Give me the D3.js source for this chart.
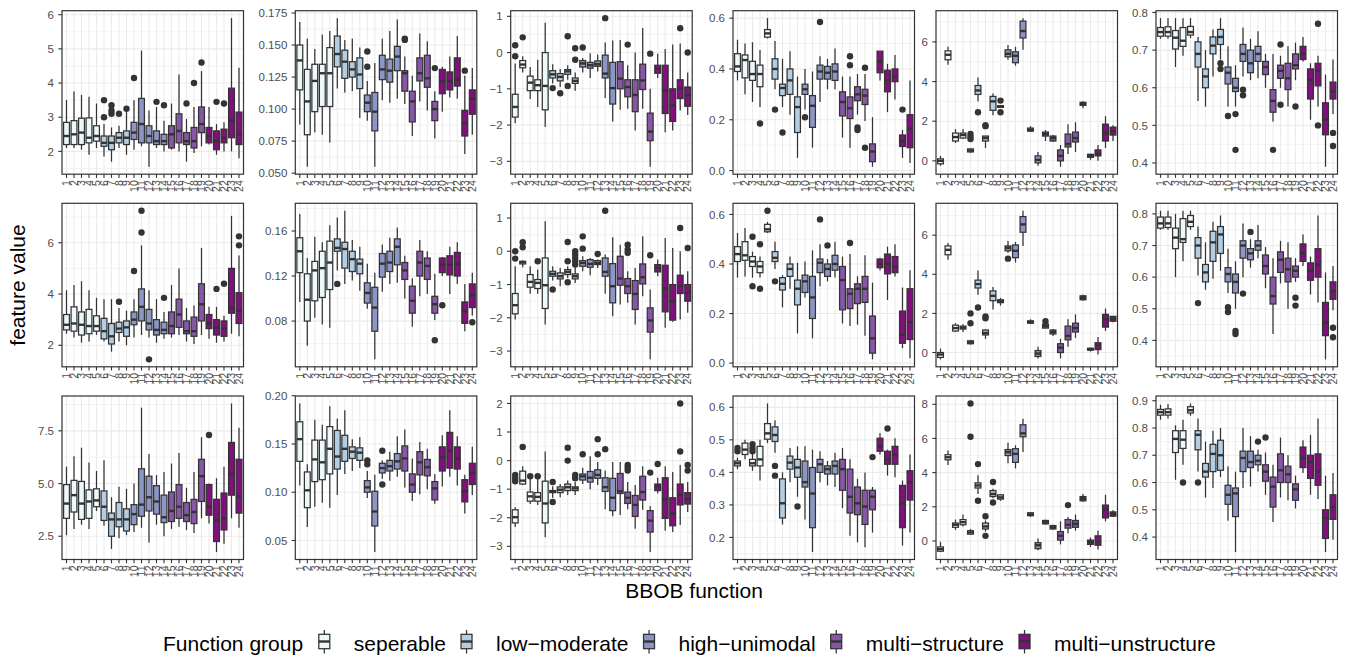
<!DOCTYPE html>
<html>
<head>
<meta charset="utf-8">
<script src="https://cdn.jsdelivr.net/npm/d3@7"></script>
<style>
  body { margin: 0; background: #fff; }
  svg { display: block; font-family: "Liberation Sans", Arial, sans-serif; }
</style>
</head>
<body>
<svg id="chart" width="1348" height="658"></svg>
<script>
// BBOB functions 1..24 and their group
var fnLabels = ["1","2","3","4","5","6","7","8","9","10","11","12","13","14","15","16","17","18","19","20","21","22","23","24"];
var groupNames = ["seperable", "low\u2212moderate", "high\u2212unimodal", "multi\u2212structure", "multi\u2212unstructure"];
var groupColors = ["#edf8fb", "#b3cde3", "#8c96c6", "#8856a7", "#810f7c"];
var fnGroup = [0,0,0,0,0,1,1,1,1,2,2,2,2,2,3,3,3,3,3,4,4,4,4,4];

// each row: [lower whisker, q1, median, q3, upper whisker]; outliers: [function, value]
var r1c1 = [[2.1,2.2,2.45,2.85,3.5],[2.1,2.2,2.5,2.9,3.75],[2.05,2.2,2.55,2.97,3.65],[1.9,2.25,2.4,2.98,3.6],[2.1,2.3,2.45,2.75,3.4],[1.85,2.15,2.25,2.45,2.8],[1.7,2.05,2.25,2.45,2.7],[2.1,2.25,2.4,2.55,2.75],[1.9,2.2,2.4,2.6,3.15],[2.05,2.35,2.55,2.85,3.5],[2.15,2.25,2.8,3.55,4.95],[1.55,2.25,2.45,2.75,3.2],[2.1,2.2,2.3,2.6,3.3],[2.0,2.2,2.3,2.5,2.9],[2.05,2.1,2.5,2.75,3.4],[2.0,2.25,2.6,3.1,4.25],[1.7,2.2,2.3,2.55,2.95],[1.95,2.1,2.3,2.7,3.3],[2.15,2.55,2.8,3.3,4.35],[2.2,2.25,2.45,2.7,3.3],[1.9,2.05,2.3,2.6,2.8],[2.0,2.25,2.4,2.65,2.85],[2.0,2.4,2.9,3.85,5.9],[1.8,2.2,2.5,3.15,4.45]];
var r1c1Out = [[6,3.5],[6,3.0],[7,3.35],[7,3.2],[7,3.1],[8,3.1],[9,3.25],[10,4.15],[13,3.45],[14,3.35],[17,3.4],[18,4.0],[19,4.6],[21,3.45],[22,3.4]];

var r1c2 = [[0.088,0.115,0.138,0.150,0.168],[0.055,0.080,0.106,0.131,0.155],[0.082,0.098,0.122,0.135,0.147],[0.080,0.102,0.128,0.135,0.158],[0.074,0.102,0.128,0.148,0.161],[0.116,0.133,0.143,0.157,0.171],[0.113,0.124,0.137,0.146,0.154],[0.114,0.125,0.131,0.137,0.155],[0.093,0.116,0.127,0.140,0.148],[0.091,0.098,0.105,0.111,0.122],[0.055,0.083,0.098,0.113,0.136],[0.107,0.123,0.131,0.142,0.155],[0.105,0.121,0.130,0.139,0.161],[0.108,0.130,0.141,0.149,0.170],[0.104,0.114,0.128,0.130,0.141],[0.079,0.090,0.106,0.114,0.126],[0.106,0.122,0.128,0.140,0.159],[0.099,0.117,0.124,0.142,0.153],[0.077,0.091,0.100,0.106,0.114],[0.098,0.112,0.122,0.131,0.133],[0.109,0.115,0.122,0.129,0.141],[0.108,0.118,0.123,0.140,0.157],[0.065,0.079,0.089,0.099,0.126],[0.080,0.096,0.108,0.115,0.132]];
var r1c2Out = [[10,0.145],[10,0.133],[15,0.155],[15,0.154],[19,0.132],[23,0.130]];

var r1c3 = [[-1.95,-1.78,-1.5,-1.15,-0.3],[-0.55,-0.42,-0.33,-0.22,-0.1],[-1.28,-1.05,-0.83,-0.65,-0.4],[-1.5,-1.05,-0.9,-0.75,-0.2],[-2.05,-1.58,-0.92,0.0,0.82],[-0.85,-0.7,-0.6,-0.5,-0.32],[-0.95,-0.78,-0.67,-0.58,-0.45],[-0.75,-0.6,-0.52,-0.47,-0.35],[-1.05,-0.85,-0.78,-0.7,-0.55],[-0.55,-0.4,-0.3,-0.22,-0.15],[-0.7,-0.43,-0.35,-0.27,-0.02],[-0.52,-0.38,-0.32,-0.23,-0.05],[-1.25,-0.7,-0.58,-0.07,0.28],[-1.9,-1.42,-0.98,-0.27,0.33],[-1.58,-1.0,-0.72,-0.25,0.35],[-1.55,-1.22,-0.95,-0.75,-0.35],[-2.15,-1.63,-1.17,-0.75,0.0],[-1.55,-1.02,-0.77,-0.32,0.68],[-3.15,-2.43,-2.18,-1.67,-1.0],[-0.7,-0.57,-0.45,-0.35,-0.03],[-2.2,-1.68,-1.05,-0.35,0.1],[-2.15,-1.9,-1.45,-1.0,0.22],[-1.6,-1.27,-0.98,-0.75,0.25],[-1.72,-1.48,-1.18,-0.95,-0.55]];
var r1c3Out = [[1,0.2],[1,-0.1],[2,0.42],[6,-0.98],[7,-1.12],[8,0.45],[8,-0.92],[9,0.12],[9,-0.2],[10,0.14],[13,0.95],[16,0.22],[19,-0.03],[23,0.67],[24,0.0]];

var r1c4 = [[0.355,0.39,0.41,0.46,0.515],[0.3,0.365,0.435,0.455,0.5],[0.27,0.355,0.38,0.43,0.505],[0.25,0.33,0.38,0.415,0.475],[0.52,0.525,0.54,0.555,0.6],[0.32,0.36,0.40,0.44,0.51],[0.25,0.295,0.325,0.34,0.44],[0.22,0.3,0.355,0.4,0.47],[0.05,0.15,0.25,0.29,0.37],[0.24,0.3,0.32,0.34,0.4],[0.09,0.17,0.255,0.295,0.39],[0.27,0.36,0.39,0.415,0.45],[0.32,0.36,0.385,0.41,0.44],[0.32,0.355,0.39,0.42,0.48],[0.13,0.215,0.27,0.31,0.37],[0.09,0.205,0.245,0.29,0.37],[0.22,0.275,0.30,0.33,0.38],[0.195,0.26,0.295,0.32,0.38],[0.015,0.035,0.075,0.105,0.21],[0.355,0.385,0.43,0.47,0.47],[0.23,0.31,0.355,0.395,0.42],[0.28,0.35,0.37,0.4,0.455],[0.05,0.095,0.115,0.14,0.16],[0.03,0.09,0.165,0.22,0.355]];
var r1c4Out = [[4,0.185],[6,0.24],[7,0.15],[10,0.21],[12,0.585],[16,0.45],[16,0.415],[17,0.17],[17,0.16],[18,0.405],[18,0.09],[23,0.24]];

var r1c5 = [[-0.25,-0.15,0.0,0.1,0.25],[4.85,5.1,5.35,5.55,5.75],[0.9,1.0,1.2,1.4,1.6],[1.1,1.15,1.3,1.4,1.6],[0.4,0.45,0.52,0.6,0.65],[3.0,3.35,3.55,3.8,4.2],[0.65,1.0,1.15,1.25,1.25],[2.3,2.55,3.0,3.25,3.4],[2.7,2.7,2.73,2.78,2.8],[5.1,5.25,5.4,5.6,5.85],[4.8,4.95,5.3,5.5,5.75],[5.6,6.2,6.55,7.05,7.2],[1.45,1.5,1.55,1.65,1.75],[-0.25,-0.1,0.05,0.25,0.45],[1.0,1.25,1.35,1.45,1.55],[0.95,1.0,1.15,1.25,1.3],[-0.3,0.0,0.25,0.55,0.8],[0.35,0.7,0.85,1.35,1.85],[0.45,0.95,1.15,1.45,1.95],[2.65,2.8,2.88,2.95,3.0],[0.05,0.18,0.25,0.33,0.35],[0.0,0.25,0.35,0.55,0.8],[0.65,1.0,1.4,1.85,2.25],[1.0,1.3,1.5,1.7,1.8]];
var r1c5Out = [[5,1.35],[5,1.2],[5,1.1],[6,2.45],[7,1.8],[7,1.75],[9,3.04],[9,2.45]];

var r1c6 = [[0.73,0.737,0.748,0.76,0.785],[0.73,0.737,0.748,0.762,0.785],[0.655,0.703,0.733,0.752,0.785],[0.685,0.71,0.725,0.76,0.785],[0.732,0.74,0.748,0.763,0.785],[0.565,0.655,0.69,0.722,0.735],[0.55,0.6,0.63,0.65,0.7],[0.63,0.69,0.712,0.735,0.755],[0.675,0.715,0.735,0.755,0.785],[0.55,0.61,0.64,0.655,0.71],[0.55,0.59,0.60,0.625,0.66],[0.63,0.67,0.69,0.715,0.76],[0.62,0.64,0.665,0.7,0.73],[0.625,0.67,0.69,0.71,0.75],[0.6,0.635,0.655,0.67,0.69],[0.51,0.535,0.565,0.595,0.69],[0.6,0.625,0.645,0.66,0.685],[0.55,0.595,0.625,0.665,0.71],[0.62,0.65,0.66,0.69,0.72],[0.67,0.675,0.69,0.71,0.735],[0.515,0.57,0.62,0.65,0.665],[0.55,0.605,0.645,0.665,0.685],[0.39,0.475,0.515,0.56,0.635],[0.53,0.57,0.59,0.615,0.675]];
var r1c6Out = [[9,0.665],[9,0.65],[10,0.525],[11,0.53],[11,0.435],[12,0.595],[12,0.58],[16,0.435],[17,0.715],[17,0.555],[19,0.55],[22,0.77],[22,0.5],[24,0.48],[24,0.445]];

var r2c1 = [[2.45,2.6,2.8,3.2,4.15],[2.3,2.55,2.85,3.5,4.35],[2.1,2.4,2.8,3.3,4.5],[2.15,2.45,2.75,3.4,4.15],[2.4,2.55,2.75,3.15,3.85],[2.15,2.25,2.55,3.05,3.8],[1.75,2.05,2.35,2.85,3.8],[2.15,2.5,2.65,2.9,3.45],[2.0,2.35,2.7,2.95,3.35],[2.3,2.8,3.0,3.3,3.8],[2.4,2.95,3.5,4.2,5.9],[2.3,2.6,2.85,3.4,4.15],[2.1,2.4,2.6,3.0,3.8],[2.25,2.45,2.6,2.9,3.3],[2.3,2.45,2.75,3.3,4.35],[2.4,2.7,3.2,3.8,5.0],[2.15,2.45,2.55,2.95,3.45],[2.05,2.35,2.55,3.1,3.55],[2.4,2.95,3.6,4.4,5.8],[2.25,2.65,2.85,3.2,3.5],[2.1,2.4,2.7,3.0,3.5],[2.15,2.35,2.65,2.95,3.15],[2.45,3.25,3.45,5.0,7.05],[2.35,2.85,3.35,4.05,5.5]];
var r2c1Out = [[8,3.7],[10,4.9],[11,7.25],[11,6.4],[12,1.45],[14,3.85],[21,4.2],[22,4.4],[24,6.25],[24,5.9]];

var r2c2 = [[0.097,0.123,0.142,0.154,0.175],[0.058,0.080,0.099,0.122,0.136],[0.083,0.098,0.125,0.133,0.155],[0.077,0.101,0.127,0.142,0.150],[0.074,0.108,0.132,0.151,0.165],[0.125,0.142,0.145,0.153,0.172],[0.113,0.127,0.144,0.150,0.178],[0.116,0.124,0.135,0.142,0.152],[0.107,0.122,0.131,0.135,0.146],[0.091,0.096,0.105,0.114,0.131],[0.046,0.071,0.092,0.110,0.123],[0.106,0.119,0.131,0.140,0.148],[0.113,0.124,0.132,0.142,0.154],[0.114,0.130,0.146,0.153,0.163],[0.100,0.117,0.125,0.132,0.138],[0.075,0.087,0.098,0.111,0.118],[0.102,0.120,0.132,0.142,0.152],[0.104,0.117,0.129,0.136,0.142],[0.081,0.087,0.095,0.102,0.122],[0.120,0.123,0.130,0.136,0.137],[0.104,0.121,0.130,0.138,0.146],[0.113,0.120,0.131,0.141,0.150],[0.071,0.078,0.089,0.097,0.113],[0.085,0.092,0.103,0.113,0.123]];
var r2c2Out = [[6,0.113],[19,0.063],[20,0.094],[24,0.079]];

var r2c3 = [[-2.05,-1.88,-1.62,-1.27,-0.45],[-0.48,-0.38,-0.33,-0.3,-0.28],[-1.28,-1.08,-0.92,-0.7,-0.45],[-1.28,-1.12,-0.95,-0.85,-0.55],[-2.2,-1.72,-1.02,-0.2,0.9],[-0.88,-0.75,-0.68,-0.6,-0.45],[-1.05,-0.83,-0.75,-0.65,-0.5],[-0.8,-0.7,-0.62,-0.55,-0.45],[-0.95,-0.83,-0.75,-0.68,-0.48],[-0.6,-0.45,-0.35,-0.28,-0.15],[-0.72,-0.48,-0.38,-0.25,-0.2],[-0.5,-0.4,-0.35,-0.28,-0.25],[-1.28,-0.75,-0.62,-0.2,-0.1],[-1.95,-1.55,-1.05,-0.37,0.42],[-1.6,-1.02,-0.82,-0.15,0.2],[-1.55,-1.27,-1.05,-0.82,-0.6],[-2.2,-1.75,-1.28,-0.88,-0.5],[-1.35,-0.98,-0.78,-0.38,0.45],[-3.25,-2.43,-2.08,-1.7,-1.15],[-0.75,-0.62,-0.5,-0.4,-0.25],[-2.3,-1.82,-1.12,-0.42,0.4],[-2.12,-2.07,-1.5,-1.0,0.1],[-2.05,-1.27,-1.05,-0.72,0.0],[-1.85,-1.5,-1.25,-1.0,-0.6]];
var r2c3Out = [[1,0.0],[1,-0.22],[2,0.27],[2,0.12],[4,-0.3],[6,-1.15],[8,0.28],[8,-0.3],[8,-0.93],[9,0.0],[9,-0.1],[9,-0.2],[9,-0.3],[9,-0.4],[10,0.45],[10,0.08],[12,-0.08],[13,1.22],[16,0.2],[16,0.05],[16,-0.05],[19,-0.12],[23,0.7],[24,0.1]];

var r2c4 = [[0.345,0.41,0.44,0.47,0.525],[0.35,0.415,0.435,0.49,0.545],[0.345,0.39,0.41,0.43,0.45],[0.345,0.365,0.39,0.41,0.43],[0.525,0.53,0.54,0.56,0.57],[0.38,0.41,0.425,0.45,0.49],[0.225,0.295,0.32,0.345,0.355],[0.3,0.35,0.38,0.4,0.43],[0.12,0.235,0.30,0.335,0.405],[0.265,0.285,0.33,0.355,0.41],[0.1,0.18,0.265,0.35,0.455],[0.31,0.365,0.405,0.42,0.48],[0.33,0.35,0.38,0.4,0.42],[0.345,0.375,0.4,0.435,0.49],[0.16,0.215,0.335,0.39,0.43],[0.15,0.22,0.28,0.3,0.44],[0.155,0.24,0.3,0.32,0.35],[0.11,0.245,0.30,0.35,0.435],[0.015,0.04,0.1,0.19,0.325],[0.375,0.385,0.40,0.42,0.425],[0.255,0.36,0.4,0.44,0.47],[0.35,0.365,0.39,0.43,0.48],[0.06,0.08,0.115,0.21,0.305],[0.02,0.095,0.165,0.3,0.375]];
var r2c4Out = [[3,0.51],[3,0.31],[4,0.48],[4,0.3],[5,0.615],[6,0.33],[12,0.58],[13,0.475],[16,0.485]];

var r2c5 = [[-0.35,-0.25,-0.1,0.0,0.2],[4.75,5.0,5.25,5.45,5.6],[1.05,1.1,1.25,1.4,1.5],[1.05,1.2,1.27,1.35,1.45],[0.4,0.45,0.52,0.6,0.65],[2.95,3.3,3.5,3.7,4.2],[0.7,0.9,1.0,1.15,1.2],[2.2,2.65,2.9,3.15,3.35],[2.4,2.55,2.62,2.7,2.8],[5.1,5.2,5.35,5.45,5.7],[4.6,4.85,5.2,5.5,5.65],[5.45,6.15,6.55,6.95,7.25],[1.45,1.5,1.55,1.62,1.7],[-0.3,-0.2,-0.05,0.1,0.3],[1.25,1.25,1.35,1.45,1.5],[0.85,0.95,1.05,1.15,1.2],[-0.3,0.0,0.25,0.45,0.7],[0.3,0.65,0.85,1.35,1.7],[0.75,1.05,1.25,1.5,1.95],[2.65,2.7,2.8,2.9,2.95],[0.05,0.12,0.17,0.22,0.25],[-0.1,0.15,0.35,0.5,0.8],[1.1,1.3,1.7,1.95,2.25],[1.55,1.6,1.72,1.85,1.85]];
var r2c5Out = [[5,2.0],[5,1.5],[6,2.3],[7,1.85],[7,1.75],[10,4.8],[15,1.6]];

var r2c6 = [[0.75,0.755,0.77,0.79,0.81],[0.75,0.757,0.77,0.79,0.81],[0.6,0.69,0.725,0.755,0.8],[0.65,0.71,0.72,0.785,0.81],[0.75,0.76,0.775,0.795,0.81],[0.605,0.66,0.70,0.725,0.76],[0.56,0.585,0.615,0.64,0.71],[0.595,0.65,0.71,0.745,0.775],[0.62,0.675,0.735,0.76,0.795],[0.55,0.585,0.61,0.63,0.69],[0.5,0.55,0.585,0.61,0.65],[0.6,0.66,0.70,0.715,0.77],[0.63,0.655,0.675,0.69,0.72],[0.66,0.685,0.70,0.715,0.765],[0.565,0.61,0.635,0.67,0.695],[0.42,0.515,0.54,0.6,0.66],[0.58,0.615,0.655,0.68,0.715],[0.5,0.585,0.625,0.66,0.71],[0.585,0.6,0.62,0.635,0.66],[0.635,0.65,0.675,0.705,0.735],[0.545,0.59,0.62,0.645,0.665],[0.52,0.6,0.64,0.69,0.795],[0.34,0.415,0.455,0.52,0.615],[0.495,0.53,0.555,0.585,0.635]];
var r2c6Out = [[6,0.518],[10,0.505],[10,0.49],[11,0.43],[11,0.42],[12,0.548],[13,0.743],[19,0.535],[19,0.51],[24,0.44],[24,0.41]];

var r3c1 = [[2.55,3.35,4.05,4.95,5.8],[2.85,3.65,4.45,5.15,6.3],[3.05,3.3,4.05,5.1,6.7],[2.85,3.35,4.15,4.7,6.0],[3.7,3.9,4.2,4.75,5.6],[3.0,3.25,3.9,4.65,6.1],[1.9,2.5,3.3,3.6,4.35],[2.4,2.95,3.3,4.1,4.85],[2.55,2.75,3.3,3.8,4.75],[2.7,3.05,3.55,4.0,5.0],[2.9,3.45,4.0,5.7,8.6],[2.2,3.7,4.35,5.35,6.4],[3.05,3.55,4.15,4.9,5.4],[2.5,3.15,3.4,4.45,5.55],[2.85,3.2,3.7,4.6,5.95],[2.95,3.35,3.9,4.95,6.45],[2.8,3.2,3.5,4.1,4.8],[2.65,3.1,3.65,4.25,5.55],[3.35,4.15,5.35,6.15,7.2],[3.1,3.5,3.9,4.95,5.0],[1.75,2.25,3.25,4.25,5.25],[2.15,2.8,3.35,4.55,5.8],[3.35,4.45,5.45,6.95,8.8],[2.9,3.6,4.4,6.15,7.65]];
var r3c1Out = [[20,7.3]];

var r3c2 = [[0.107,0.132,0.155,0.173,0.192],[0.064,0.084,0.102,0.121,0.129],[0.085,0.111,0.134,0.154,0.175],[0.089,0.113,0.131,0.154,0.170],[0.084,0.119,0.145,0.168,0.189],[0.097,0.124,0.137,0.164,0.176],[0.119,0.132,0.145,0.159,0.185],[0.122,0.135,0.142,0.147,0.155],[0.125,0.133,0.141,0.146,0.157],[0.094,0.100,0.105,0.112,0.122],[0.038,0.065,0.080,0.101,0.118],[0.114,0.120,0.125,0.130,0.133],[0.112,0.122,0.127,0.133,0.142],[0.116,0.124,0.132,0.140,0.158],[0.105,0.122,0.135,0.148,0.165],[0.091,0.100,0.108,0.119,0.135],[0.098,0.118,0.131,0.142,0.152],[0.103,0.117,0.126,0.134,0.145],[0.088,0.092,0.104,0.111,0.119],[0.106,0.122,0.136,0.147,0.159],[0.116,0.125,0.143,0.162,0.185],[0.107,0.124,0.135,0.147,0.158],[0.078,0.090,0.101,0.113,0.118],[0.097,0.108,0.120,0.130,0.147]];
var r3c2Out = [[10,0.133],[10,0.129],[12,0.143],[12,0.108]];

var r3c3 = [[-2.32,-2.18,-1.98,-1.72,-1.62],[-0.85,-0.82,-0.7,-0.37,-0.2],[-1.52,-1.42,-1.25,-1.1,-0.62],[-1.55,-1.42,-1.27,-1.12,-0.62],[-2.68,-2.18,-1.5,-0.72,0.32],[-1.3,-1.12,-1.08,-1.05,-0.9],[-1.28,-1.12,-1.02,-0.92,-0.82],[-1.2,-1.05,-0.93,-0.82,-0.7],[-1.2,-1.05,-0.97,-0.92,-0.75],[-0.82,-0.68,-0.55,-0.47,-0.25],[-1.0,-0.75,-0.6,-0.38,0.15],[-0.85,-0.62,-0.5,-0.32,-0.05],[-1.7,-1.08,-0.93,-0.6,-0.35],[-1.95,-1.75,-1.3,-0.62,-0.05],[-1.9,-1.15,-1.07,-0.45,-0.05],[-1.7,-1.5,-1.3,-1.1,-0.75],[-2.38,-1.95,-1.55,-1.22,-0.85],[-1.72,-1.38,-1.1,-0.55,-0.2],[-3.2,-2.5,-2.1,-1.75,-1.6],[-1.15,-1.05,-0.9,-0.82,-0.6],[-2.45,-2.02,-1.35,-0.6,-0.2],[-2.5,-2.28,-1.85,-1.3,-0.4],[-2.25,-1.55,-1.2,-0.82,-0.15],[-1.8,-1.52,-1.35,-1.12,-0.75]];
var r3c3Out = [[1,-0.5],[1,-0.62],[1,-0.72],[2,0.48],[3,-0.55],[4,-0.55],[6,-0.75],[6,-1.45],[8,0.45],[8,0.0],[9,-0.5],[9,-0.62],[10,0.22],[12,0.75],[12,0.22],[13,0.4],[16,-0.15],[16,-0.25],[16,-0.35],[19,-0.42],[20,-0.12],[23,2.0],[23,0.32],[24,-0.15],[24,-0.35]];

var r3c4 = [[0.41,0.42,0.428,0.435,0.445],[0.44,0.455,0.47,0.49,0.5],[0.405,0.42,0.428,0.44,0.46],[0.375,0.42,0.44,0.48,0.5],[0.49,0.502,0.52,0.55,0.612],[0.46,0.495,0.515,0.54,0.56],[0.24,0.26,0.305,0.38,0.4],[0.37,0.41,0.43,0.45,0.475],[0.325,0.385,0.415,0.44,0.48],[0.255,0.355,0.37,0.435,0.48],[0.155,0.23,0.335,0.415,0.47],[0.37,0.4,0.425,0.44,0.465],[0.36,0.395,0.41,0.42,0.435],[0.355,0.395,0.42,0.435,0.46],[0.29,0.345,0.41,0.44,0.475],[0.205,0.275,0.325,0.41,0.44],[0.185,0.27,0.305,0.355,0.38],[0.17,0.24,0.295,0.345,0.4],[0.215,0.285,0.325,0.345,0.355],[0.455,0.465,0.48,0.505,0.52],[0.39,0.425,0.44,0.465,0.47],[0.385,0.425,0.455,0.48,0.505],[0.175,0.23,0.305,0.36,0.375],[0.215,0.315,0.37,0.405,0.455]];
var r3c4Out = [[1,0.475],[1,0.465],[3,0.487],[3,0.475],[3,0.465],[6,0.42],[6,0.39],[9,0.295],[19,0.447],[21,0.535]];

var r3c5 = [[-0.65,-0.6,-0.48,-0.35,-0.05],[4.45,4.75,4.9,5.05,5.3],[0.65,0.8,0.95,1.05,1.25],[0.85,0.95,1.1,1.25,1.55],[0.35,0.4,0.5,0.6,0.7],[2.75,3.1,3.25,3.4,3.85],[0.55,0.7,0.85,1.05,1.2],[2.5,2.6,2.75,2.95,3.05],[2.35,2.45,2.55,2.7,2.75],[4.55,5.0,5.2,5.35,5.75],[4.25,4.6,5.1,5.4,5.6],[5.2,6.1,6.3,6.8,7.15],[1.4,1.48,1.55,1.65,1.7],[-0.55,-0.45,-0.25,-0.1,0.15],[0.95,1.0,1.1,1.2,1.25],[0.65,0.7,0.8,0.9,0.95],[-0.2,0.05,0.3,0.55,1.15],[0.45,0.75,0.95,1.25,1.4],[0.6,0.8,1.0,1.2,1.55],[2.3,2.35,2.48,2.6,2.75],[-0.35,-0.2,-0.05,0.05,0.2],[-0.5,-0.25,-0.05,0.3,0.6],[1.15,1.35,1.85,2.1,2.7],[1.4,1.45,1.55,1.7,1.8]];
var r3c5Out = [[5,8.05],[5,6.1],[6,4.5],[6,2.35],[7,1.45],[7,0.3],[8,3.45],[8,2.25],[18,2.1]];

var r3c6 = [[0.83,0.847,0.858,0.868,0.885],[0.835,0.847,0.858,0.87,0.888],[0.61,0.71,0.76,0.79,0.81],[0.665,0.725,0.757,0.79,0.83],[0.845,0.855,0.865,0.878,0.89],[0.64,0.72,0.775,0.79,0.835],[0.545,0.62,0.64,0.67,0.75],[0.58,0.64,0.705,0.74,0.79],[0.62,0.645,0.70,0.755,0.8],[0.46,0.52,0.555,0.59,0.66],[0.345,0.475,0.56,0.58,0.64],[0.58,0.64,0.69,0.715,0.8],[0.585,0.655,0.675,0.715,0.77],[0.64,0.665,0.68,0.7,0.72],[0.555,0.605,0.64,0.665,0.71],[0.455,0.51,0.585,0.62,0.665],[0.545,0.6,0.645,0.705,0.765],[0.535,0.6,0.63,0.66,0.7],[0.505,0.535,0.575,0.595,0.625],[0.635,0.655,0.69,0.73,0.755],[0.555,0.615,0.675,0.7,0.775],[0.54,0.59,0.64,0.705,0.835],[0.345,0.395,0.47,0.5,0.625],[0.39,0.465,0.51,0.555,0.635]];
var r3c6Out = [[4,0.6],[6,0.6],[14,0.75],[15,0.765]];

// y axis breaks for each panel, row by row
var yTicks = [
  [2,3,4,5,6], [0.05,0.075,0.1,0.125,0.15,0.175], [-3,-2,-1,0,1], [0,0.2,0.4,0.6], [0,2,4,6], [0.4,0.5,0.6,0.7,0.8],
  [2,4,6], [0.08,0.12,0.16], [-3,-2,-1,0,1], [0,0.2,0.4,0.6], [0,2,4,6], [0.4,0.5,0.6,0.7,0.8],
  [2.5,5,7.5], [0.05,0.1,0.15,0.2], [-3,-2,-1,0,1,2], [0.2,0.3,0.4,0.5,0.6], [0,2,4,6,8], [0.4,0.5,0.6,0.7,0.8,0.9]
];
var yDecimals = [0,3,0,1,0,1, 0,2,0,1,0,1, 1,2,0,1,0,1];

var boxes = [r1c1, r1c2, r1c3, r1c4, r1c5, r1c6, r2c1, r2c2, r2c3, r2c4, r2c5, r2c6, r3c1, r3c2, r3c3, r3c4, r3c5, r3c6];
var outs = [r1c1Out, r1c2Out, r1c3Out, r1c4Out, r1c5Out, r1c6Out, r2c1Out, r2c2Out, r2c3Out, r2c4Out, r2c5Out, r2c6Out, r3c1Out, r3c2Out, r3c3Out, r3c4Out, r3c5Out, r3c6Out];

// page layout
var colLeft = [62, 295.3, 510.7, 733, 936, 1156];
var rowTop = [10.7, 203.3, 396];
var panelW = 181.5, panelH = 163.5;
var ink = "#333333", gridCol = "#ebebeb", labCol = "#4d4d4d";
var lw = 1.25;

var svg = d3.select("#chart");
svg.append("rect").attr("width", 1348).attr("height", 658).attr("fill", "#fff");

function fmt(v, d) {
  return v.toFixed(d).replace("-", "\u2212");
}

boxes.forEach(function(data, p) {
  var col = p % 6, row = Math.floor(p / 6);
  var g = svg.append("g").attr("transform", "translate(" + colLeft[col] + "," + rowTop[row] + ")");
  var outliers = outs[p];

  var x = d3.scalePoint().domain(fnLabels).range([0, panelW]).padding(0.6);
  var vals = d3.merge(data).concat(outliers.map(function(o) { return o[1]; }));
  var lo = d3.min(vals), hi = d3.max(vals), pad = (hi - lo) * 0.05;
  var y = d3.scaleLinear().domain([lo - pad, hi + pad]).range([panelH, 0]);

  var major = yTicks[p];
  var step = major[1] - major[0];
  var minor = [major[0] - step / 2];
  major.forEach(function(t) { minor.push(t + step / 2); });
  minor = minor.filter(function(m) { return m > y.domain()[0] && m < y.domain()[1]; });

  g.append("rect").attr("width", panelW).attr("height", panelH).attr("fill", "#fff");
  g.selectAll(".minor").data(minor).enter().append("line")
    .attr("x1", 0).attr("x2", panelW)
    .attr("y1", function(d) { return y(d); }).attr("y2", function(d) { return y(d); })
    .attr("stroke", gridCol).attr("stroke-width", 0.6);
  g.selectAll(".major").data(major).enter().append("line")
    .attr("x1", 0).attr("x2", panelW)
    .attr("y1", function(d) { return y(d); }).attr("y2", function(d) { return y(d); })
    .attr("stroke", gridCol).attr("stroke-width", 1.1);
  g.selectAll(".vgrid").data(fnLabels).enter().append("line")
    .attr("x1", function(d) { return x(d); }).attr("x2", function(d) { return x(d); })
    .attr("y1", 0).attr("y2", panelH)
    .attr("stroke", gridCol).attr("stroke-width", 1.1);

  var bw = x.step() * 0.78;
  var b = g.selectAll(".box").data(data).enter().append("g")
    .attr("transform", function(d, i) { return "translate(" + x(fnLabels[i]) + ",0)"; });
  b.append("line").attr("x1", 0).attr("x2", 0)
    .attr("y1", function(d) { return y(d[4]); }).attr("y2", function(d) { return y(d[3]); })
    .attr("stroke", ink).attr("stroke-width", lw);
  b.append("line").attr("x1", 0).attr("x2", 0)
    .attr("y1", function(d) { return y(d[1]); }).attr("y2", function(d) { return y(d[0]); })
    .attr("stroke", ink).attr("stroke-width", lw);
  b.append("rect").attr("x", -bw / 2).attr("width", bw)
    .attr("y", function(d) { return y(d[3]); })
    .attr("height", function(d) { return Math.max(0.5, y(d[1]) - y(d[3])); })
    .attr("fill", function(d, i) { return groupColors[fnGroup[i]]; })
    .attr("stroke", ink).attr("stroke-width", lw);
  b.append("line").attr("x1", -bw / 2).attr("x2", bw / 2)
    .attr("y1", function(d) { return y(d[2]); }).attr("y2", function(d) { return y(d[2]); })
    .attr("stroke", ink).attr("stroke-width", 2.4);

  g.selectAll(".out").data(outliers).enter().append("circle")
    .attr("cx", function(d) { return x(fnLabels[d[0] - 1]); })
    .attr("cy", function(d) { return y(d[1]); })
    .attr("r", 3.2).attr("fill", ink);

  g.append("rect").attr("width", panelW).attr("height", panelH)
    .attr("fill", "none").attr("stroke", ink).attr("stroke-width", 1.2);

  // y axis
  g.selectAll(".ytick").data(major).enter().append("line")
    .attr("x1", -3.7).attr("x2", 0)
    .attr("y1", function(d) { return y(d); }).attr("y2", function(d) { return y(d); })
    .attr("stroke", ink).attr("stroke-width", 1.1);
  g.selectAll(".ylab").data(major).enter().append("text")
    .attr("x", -8).attr("y", function(d) { return y(d); }).attr("dy", "0.36em")
    .attr("text-anchor", "end").attr("font-size", 11.5).attr("fill", labCol)
    .text(function(d) { return fmt(d, yDecimals[p]); });

  // x axis
  g.selectAll(".xtick").data(fnLabels).enter().append("line")
    .attr("x1", function(d) { return x(d); }).attr("x2", function(d) { return x(d); })
    .attr("y1", panelH).attr("y2", panelH + 3.7)
    .attr("stroke", ink).attr("stroke-width", 1.1);
  g.selectAll(".xlab").data(fnLabels).enter().append("text")
    .attr("transform", function(d) { return "translate(" + x(d) + "," + (panelH + 6) + ") rotate(-90)"; })
    .attr("dy", "0.36em").attr("text-anchor", "end")
    .attr("font-size", 10.5).attr("fill", labCol)
    .text(function(d) { return d; });
});

// axis titles
svg.append("text").attr("x", 694).attr("y", 598).attr("text-anchor", "middle")
  .attr("font-size", 21).attr("fill", "#000").text("BBOB function");
svg.append("text").attr("transform", "translate(25,285) rotate(-90)").attr("text-anchor", "middle")
  .attr("font-size", 21).attr("fill", "#000").text("feature value");

// legend
var legY = 641.5, legBase = 651.3;
var leg = svg.append("g");
var cx = 163;
var title = leg.append("text").attr("x", cx).attr("y", legBase).attr("font-size", 21).attr("fill", "#000").text("Function group");
cx += title.node().getComputedTextLength() + 15.7;
groupNames.forEach(function(name, i) {
  var kx = cx + 5.5;
  leg.append("line").attr("x1", kx).attr("x2", kx).attr("y1", legY - 11.5).attr("y2", legY + 12)
    .attr("stroke", ink).attr("stroke-width", lw);
  leg.append("rect").attr("x", kx - 5.5).attr("y", legY - 7.2).attr("width", 11).attr("height", 14.4)
    .attr("fill", groupColors[i]).attr("stroke", ink).attr("stroke-width", lw);
  leg.append("line").attr("x1", kx - 5.5).attr("x2", kx + 5.5).attr("y1", legY).attr("y2", legY)
    .attr("stroke", ink).attr("stroke-width", 2.4);
  cx += 11 + 24;
  var t = leg.append("text").attr("x", cx).attr("y", legBase).attr("font-size", 21).attr("fill", "#000").text(name);
  cx += t.node().getComputedTextLength() + 15;
});
</script>
</body>
</html>
